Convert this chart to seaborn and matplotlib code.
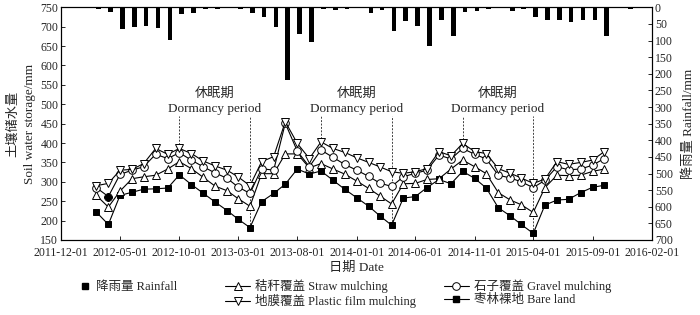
import numpy as np
import pandas as pd
import matplotlib
matplotlib.use('Agg')
import matplotlib.pyplot as plt
import matplotlib.dates as mdates
from matplotlib.lines import Line2D
import seaborn as sns

# ------------------------------------------------------------
# data
# ------------------------------------------------------------
months = pd.date_range('2012-03-01', '2015-10-01', freq='MS')

bare = [222, 190, 265, 273, 281, 282, 284, 318, 293, 271, 248, 226, 204, 182,
        249, 270, 294, 333, 320, 328, 304, 281, 259, 237, 213, 188,
        258, 262, 285, 306, 295, 327, 309, 284, 233, 212, 190, 167,
        240, 253, 255, 272, 286, 291]
straw = [265, 235, 276, 308, 313, 317, 333, 352, 334, 312, 289, 277, 257, 237,
         321, 321, 372, 372, 336, 347, 333, 320, 302, 283, 264, 243,
         295, 296, 306, 308, 333, 356, 339, 321, 272, 253, 241, 221,
         285, 317, 316, 317, 327, 333]
gravel = [285, 262, 319, 330, 339, 371, 360, 375, 356, 339, 323, 309, 287, 270,
          334, 330, 451, 379, 339, 382, 363, 345, 330, 314, 297, 288,
          313, 322, 330, 369, 359, 386, 371, 359, 317, 310, 300, 285,
          304, 339, 331, 333, 343, 360]
plastic = [290, 296, 330, 332, 347, 386, 371, 386, 373, 354, 341, 330, 313, 290,
           352, 365, 455, 399, 360, 403, 386, 376, 362, 350, 339, 326,
           322, 326, 334, 378, 367, 399, 378, 373, 334, 322, 310, 296,
           307, 352, 345, 350, 356, 378]

rain_months = pd.date_range('2012-03-01', '2015-12-01', freq='MS')
rainfall = [4, 15, 66, 60, 56, 63, 98, 21, 18, 4, 5, 0, 4, 18,
            28, 60, 218, 80, 105, 6, 8, 4, 0, 18, 8, 70,
            40, 56, 116, 38, 86, 13, 11, 4, 1, 11, 4, 28,
            38, 38, 43, 38, 38, 85, 0, 4]

dormancy_start = pd.to_datetime(['2012-10-01', '2013-10-01', '2014-10-01'])
dormancy_end = pd.to_datetime(['2013-04-01', '2014-04-01', '2015-04-01'])

xticks = pd.date_range('2011-12-01', '2016-02-01', freq='5MS')

# ------------------------------------------------------------
# style
# ------------------------------------------------------------
sns.set_style('ticks')
plt.rcParams['font.family'] = ['Liberation Serif', 'Noto Sans CJK SC']
plt.rcParams['axes.unicode_minus'] = False
FS = 9.5

fig = plt.figure(figsize=(7, 3.15), dpi=100)
ax = fig.add_axes([61 / 700, 1 - 240 / 315, (652 - 61) / 700, (240 - 7.3) / 315])
ax2 = ax.twinx()

# rainfall bars hanging from the top
ax2.bar(rain_months, rainfall, width=12, align='edge', color='black', linewidth=0)
ax2.set_ylim(700, 0)
ax2.set_yticks(np.arange(0, 701, 50))

# soil water storage series
line_kw = dict(color='black', linewidth=0.8, markeredgecolor='black',
               markeredgewidth=0.7, legend=False, ax=ax)
sns.lineplot(x=months, y=bare, marker='s', markersize=4.8,
             markerfacecolor='black', zorder=3, **line_kw)
sns.lineplot(x=months, y=straw, marker='^', markersize=5.5,
             markerfacecolor='white', zorder=4, **line_kw)
sns.lineplot(x=months, y=gravel, marker='o', markersize=5.5,
             markerfacecolor='white', zorder=5, **line_kw)
sns.lineplot(x=months, y=plastic, marker='v', markersize=5.5,
             markerfacecolor='white', zorder=6, **line_kw)
ax.plot(months[1], gravel[1], marker='D', color='black', markersize=4.5,
        linestyle='none', zorder=7)

# dormancy period markers
table = pd.DataFrame({'bare': bare, 'straw': straw, 'gravel': gravel,
                      'plastic': plastic}, index=months)
top_y = 469
for d0, d1 in zip(dormancy_start, dormancy_end):
    ax.vlines(d0, table.loc[d0].max(), top_y, colors='0.25', linewidth=0.7,
              linestyles=(0, (2, 1.5)), zorder=2)
    ax.vlines(d1, table.loc[d1].min(), top_y, colors='0.25', linewidth=0.7,
              linestyles=(0, (2, 1.5)), zorder=2)
    mid = d0 + (d1 - d0) / 2
    ax.text(mid, 527, '休眠期', ha='center', va='center', fontsize=FS)
    ax.text(mid, 489, 'Dormancy period', ha='center', va='center', fontsize=FS)

ax.set_ylim(150, 750)
ax.set_yticks(np.arange(150, 751, 50))
ax.set_xlim(xticks[0], xticks[-1])
ax.set_xticks(xticks)
ax.xaxis.set_major_formatter(mdates.DateFormatter('%Y-%m-%d'))

for a in (ax, ax2):
    a.tick_params(direction='in', length=3, width=0.7, labelsize=8.5, pad=2)
    for s in a.spines.values():
        s.set_linewidth(0.8)
        s.set_color('black')
ax.tick_params(axis='x', pad=5)

ax.set_xlabel('日期 Date', fontsize=FS, labelpad=2)
ax.set_ylabel('土壤储水量\nSoil water storage/mm', fontsize=FS, labelpad=3,
              linespacing=1.5)
ax2.set_ylabel('降雨量 Rainfall/mm', fontsize=FS, labelpad=7)

# legends: rainfall on its own, the four treatments in two columns
LFS = 9.0
rain_handle = [Line2D([], [], color='black', marker='s', linestyle='none',
                      markersize=5)]
fig.legend(rain_handle, ['降雨量 Rainfall'], loc='upper left',
           bbox_to_anchor=(79 / 700, 1 - 281 / 315), frameon=False,
           fontsize=LFS, handlelength=1.0, handletextpad=0.4,
           borderaxespad=0, borderpad=0)

handles = [
    Line2D([], [], color='black', lw=0.8, marker='^', markersize=5.5,
           markerfacecolor='white', markeredgewidth=0.7),
    Line2D([], [], color='black', lw=0.8, marker='v', markersize=5.5,
           markerfacecolor='white', markeredgewidth=0.7),
    Line2D([], [], color='black', lw=0.8, marker='o', markersize=5.5,
           markerfacecolor='white', markeredgewidth=0.7),
    Line2D([], [], color='black', lw=0.8, marker='s', markersize=4.8,
           markerfacecolor='black'),
]
labels = ['秸秆覆盖 Straw mulching', '地膜覆盖 Plastic film mulching',
          '石子覆盖 Gravel mulching', '枣林裸地 Bare land']
fig.legend(handles, labels, ncol=2, loc='upper left',
           bbox_to_anchor=(225 / 700, 1 - 279 / 315), frameon=False,
           fontsize=LFS, handlelength=2.0, handletextpad=0.4,
           columnspacing=2.2, labelspacing=0.12, borderaxespad=0,
           borderpad=0)

fig.savefig('out.png', dpi=100)
